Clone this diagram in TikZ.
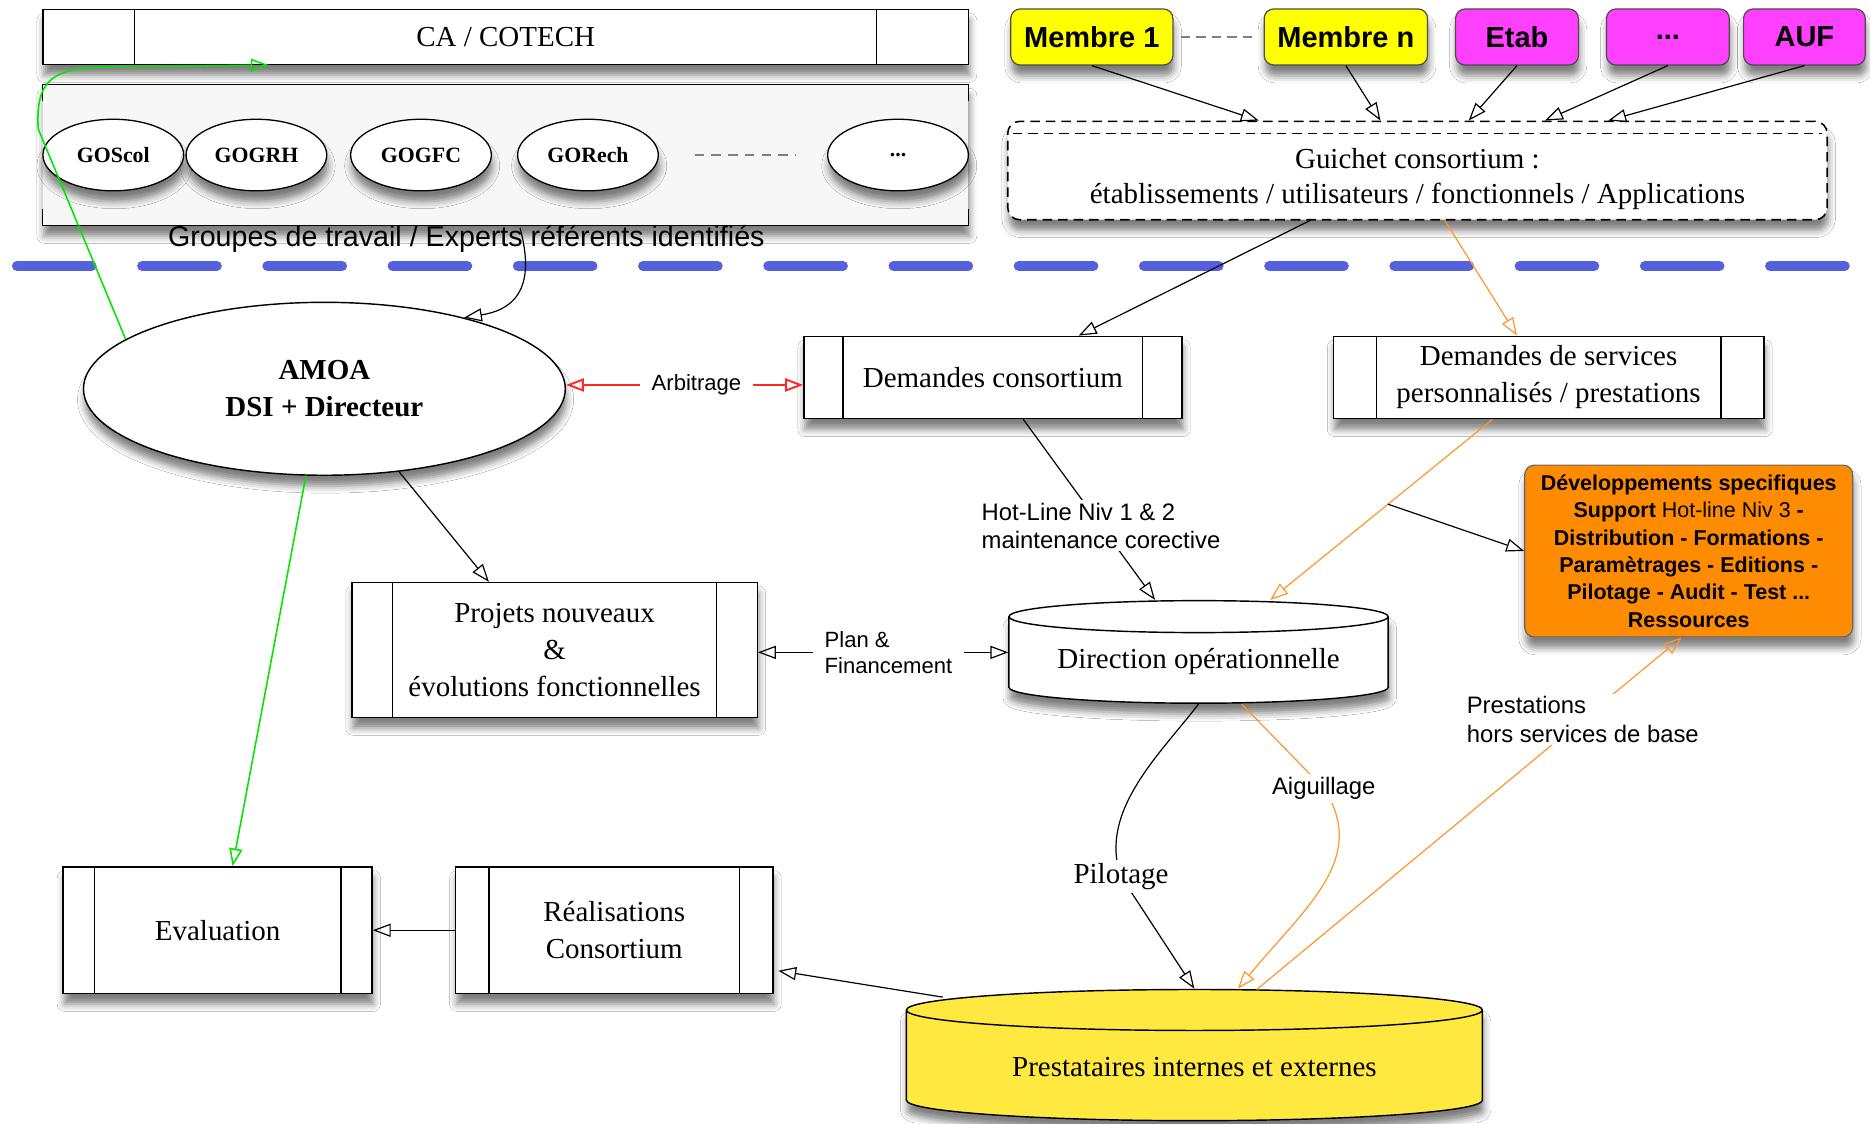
\documentclass[tikz,border=0pt]{standalone}
\usepackage{fontspec}
\setmainfont{Liberation Serif}
\setsansfont{Liberation Sans}
\usetikzlibrary{arrows.meta,calc,shapes.geometric,shadows.blur}

\definecolor{memyellow}{RGB}{255,255,0}
\definecolor{etabmag}{RGB}{255,64,255}
\definecolor{devorange}{RGB}{255,140,0}
\definecolor{prestyellow}{RGB}{255,232,64}
\definecolor{sepblue}{RGB}{84,96,222}
\definecolor{lineorange}{RGB}{255,150,40}
\definecolor{linegreen}{RGB}{0,230,0}
\definecolor{linered}{RGB}{255,40,40}

\newcommand\fntbox{\fontsize{24.3}{31}\selectfont}
\newcommand\fntlbl{\sffamily\fontsize{20}{24}\selectfont}
\newcommand\fntmem{\sffamily\bfseries\fontsize{24.3}{29}\selectfont}
\newcommand\fntdev{\sffamily\bfseries\fontsize{18}{23}\selectfont}
\newcommand\fntgo{\bfseries\fontsize{18.3}{22}\selectfont}
\newcommand\fntgrp{\sffamily\fontsize{24}{29}\selectfont}

\tikzset{
  shad/.style={blur shadow={shadow xshift=1pt, shadow yshift=-9pt, shadow blur radius=6pt, shadow opacity=50}},
  procbox/.style={draw, fill=white, line width=1.2pt, font=\fntbox, align=center, shad,
    path picture={\draw[line width=1.2pt]
      ([xshift=#1]path picture bounding box.north west) -- ([xshift=#1]path picture bounding box.south west)
      ([xshift=-#1]path picture bounding box.north east) -- ([xshift=-#1]path picture bounding box.south east);}},
  member/.style={draw=black!70, line width=1pt, rounded corners=8pt, font=\fntmem, minimum height=47pt, shad},
  gobox/.style={ellipse, draw, fill=white, line width=1.1pt, minimum width=118pt, minimum height=60pt, font=\fntgo, shad},
  dbcyl/.style={cylinder, shape border rotate=90, aspect=0.11, draw, line width=1.2pt, font=\fntbox, shad},
  arr/.style={line width=1pt, -{Triangle[open, length=15pt, width=11pt]}},
  oarr/.style={arr, draw=lineorange},
  garr/.style={arr, draw=linegreen, line width=1.3pt},
  rarr/.style={arr, draw=linered, line width=1.6pt},
  lbl/.style={font=\fntlbl, align=left, inner sep=2pt},
}

\begin{document}
\begin{tikzpicture}[x=1pt, y=-1pt]
\useasboundingbox (0,0) rectangle (1568,942);
\fill[white] (0,0) rectangle (1568,942);

% top left: CA and working groups
\node[procbox=77, minimum width=776pt, minimum height=46pt] (ca) at (424,31) {CA / COTECH};
\node[fill=gray!6, minimum width=776pt, minimum height=118pt, shad] (grp) at (424,130) {};
\draw[line width=1.2pt] ($(grp.north west)+(0,14)$) -- (grp.north west) -- (grp.north east) -- ++(0,14);
\draw[line width=1.2pt] ($(grp.south west)+(0,-14)$) -- (grp.south west) -- (grp.south east) -- ++(0,-14);
\node[gobox] (goscol) at (95,130) {GOScol};
\node[gobox] (gogrh) at (215,130) {GOGRH};
\node[gobox] (gogfc) at (353,130) {GOGFC};
\node[gobox] (gorech) at (493,130) {GORech};
\node[gobox] (gomore) at (753,130) {...};
\draw[gray, line width=2pt, dash pattern=on 8pt off 6pt] ($(gorech.east)+(30,0)$) -- ($(gomore.west)+(-26,0)$);
\node[font=\fntgrp] (grplbl) at (391,200) {Groupes de travail / Experts référents identifiés};

% top right: members and guichet
\node[member, fill=memyellow, minimum width=136pt] (m1) at (915.5,31) {Membre 1};
\node[member, fill=memyellow, minimum width=137pt] (mn) at (1128.5,31) {Membre n};
\node[member, fill=etabmag, minimum width=103pt] (etab) at (1272,31) {Etab};
\node[member, fill=etabmag, minimum width=103pt] (mdots) at (1398.5,31) {...};
\node[member, fill=etabmag, minimum width=102pt] (auf) at (1513,31) {AUF};
\draw[gray, line width=2pt, dash pattern=on 8pt off 5pt] ($(m1.east)+(6,0)$) -- ($(mn.east)+(-145,0)$);
\node[draw, dash pattern=on 8pt off 5pt, line width=1.3pt, rounded corners=10pt, fill=white,
  minimum width=687pt, minimum height=82.5pt,
  font=\fontsize{24.3}{29}\selectfont, align=center, shad] (gui) at (1188.5,143)
  {\rule{0pt}{31pt}Guichet consortium :\\établissements / utilisateurs / fonctionnels / Applications};
\draw[line width=1.3pt, dash pattern=on 8pt off 5pt] ($(gui.north west)+(5,11)$) -- ($(gui.north east)+(-5,11)$);

% separation
\draw[sepblue, line width=8.4pt, line cap=round, dash pattern=on 62.6pt off 42.4pt] (14.2,223) -- (1550,223);

% main boxes
\node[ellipse, draw, fill=white, line width=1.2pt, minimum width=404pt, minimum height=145pt,
  font=\fntbox\bfseries, align=center, shad] (amoa) at (272,326) {AMOA\\DSI + Directeur};
\node[procbox=33, minimum width=317pt, minimum height=69pt] (dc) at (832.5,316.5) {Demandes consortium};
\node[procbox=36, minimum width=361pt, minimum height=69pt] (ds) at (1298.5,316.5) {Demandes de services\\personnalisés / prestations};
\node[draw=black!60, line width=1pt, fill=devorange, rounded corners=8pt, minimum width=275pt, minimum height=144pt,
  font=\fntdev, align=center, shad] (dev) at (1416,462)
  {Développements specifiques\\Support {\mdseries Hot-line Niv 3} -\\Distribution - Formations -\\Paramètrages - Editions -\\Pilotage - Audit - Test ...\\Ressources};
\node[procbox=34, minimum width=340pt, minimum height=113pt] (proj) at (465,545) {Projets nouveaux\\\&\\évolutions fonctionnelles};
\node[dbcyl, fill=white, minimum width=318pt, minimum height=86pt] (dirop) at (1005,555) {Direction opérationnelle};
\node[procbox=26, minimum width=259pt, minimum height=106pt] (eval) at (182.5,780) {Evaluation};
\node[procbox=28, minimum width=266pt, minimum height=106pt] (real) at (515,780) {Réalisations\\Consortium};
\node[dbcyl, fill=prestyellow, minimum width=483pt, minimum height=110pt] (prest) at (1001.5,895) {Prestataires internes et externes};

% labels between boxes
\node[lbl, font=\sffamily\fontsize{18.5}{22}\selectfont, inner xsep=10pt] (arb) at (584,322.8) {Arbitrage};
\node[lbl, font=\sffamily\fontsize{18.5}{22}\selectfont, inner xsep=10pt] (plan) at (745,547) {Plan \&\\Financement};

% connectors
\draw[arr] (m1.south) -- ($(gui.north)+(-133,0)$);
\draw[arr] (mn.south) -- ($(gui.north)+(-31,0)$);
\draw[arr] (etab.south) -- ($(gui.north)+(43,0)$);
\draw[arr] (mdots.south) -- ($(gui.north)+(107,0)$);
\draw[arr] (auf.south) -- ($(gui.north)+(160,0)$);
\draw[arr] ($(gui.south)+(-90,0)$) -- ($(dc.north)+(72,0)$);
\draw[oarr] ($(gui.south)+(23,0)$) -- ($(ds.north)+(-26.5,0)$);
\draw[arr] ($(grplbl.center)+(45,-9)$) .. controls (446,228) and (442,258) .. (amoa.27);
\draw[garr] (amoa.166) -- (32,108) .. controls (30,68) and (42,57) .. (90,56) -- ($(ca.south west)+(190,0)$);
\draw[garr] (amoa.-102) -- ($(eval.north)+(12.5,0)$);
\draw[rarr] (arb.west) -- (arb.west -| amoa.east);
\draw[rarr] (arb.east) -- (arb.east -| dc.west);
\draw[arr] (amoa.-48) -- ($(proj.north)+(-55,0)$);
\draw[arr] ($(dc.south)+(25.5,0)$) -- node[lbl, fill=white, pos=0.59] {Hot-Line Niv 1 \& 2\\maintenance corective} ($(dirop.north)+(-36.5,0)$);
\draw[oarr] ($(ds.south)+(-47,0)$) -- coordinate[pos=0.47] (osplit) ($(dirop.north)+(60,0)$);
\draw[arr] (osplit) -- (dev.west);
\draw[arr] (plan.west) -- (plan.west -| proj.east);
\draw[arr] (plan.east) -- (plan.east -| dirop.west);
\draw[arr] (dirop.south) .. controls (975,630) and (920,680) .. (940,735)
  node[fill=white, font=\fntbox, inner sep=3pt] (pil) {Pilotage} -- (prest.north);
\draw[oarr] ($(dirop.south)+(36,0)$) -- (1110,661) node[lbl, fill=white, inner sep=3pt] (aig) {Aiguillage}
  .. controls (1148,720) and (1095,760) .. ($(prest.north)+(36.5,0)$);
\draw[oarr] ($(prest.north)+(53,0)$) -- node[lbl, fill=white, pos=0.767] {Prestations\\hors services de base} ($(dev.south)+(-6,0)$);
\draw[arr] ($(prest.north)+(-211,7)$) -- ($(real.east)+(4,34)$);
\draw[arr] (real.west) -- (eval.east);
\end{tikzpicture}
\end{document}
